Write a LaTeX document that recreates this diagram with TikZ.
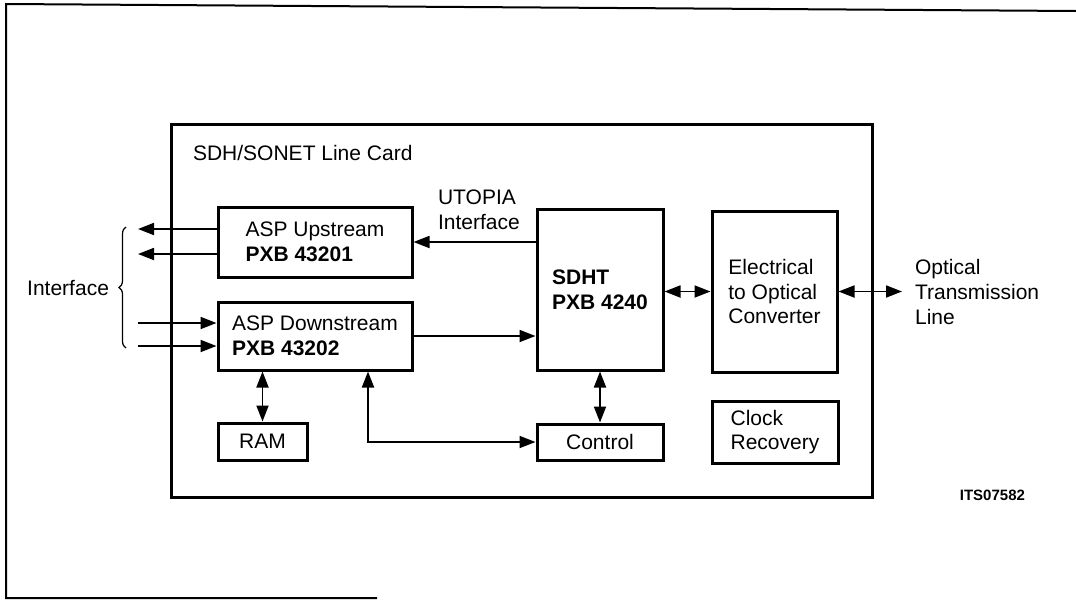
\documentclass[tikz,border=0pt]{standalone}
\usepackage{fontspec}
\setmainfont{Liberation Sans}
\usetikzlibrary{arrows.meta,decorations.pathreplacing}
\begin{document}
\begin{tikzpicture}[x=0.5pt,y=-0.5pt,
  font=\fontsize{10.5}{12.3}\selectfont,
  blk/.style={draw, line width=1.5pt, align=left, inner sep=0pt},
  arr/.style={-{Triangle[length=8pt,width=6pt]}, line width=0.9pt},
  darr/.style={{Triangle[length=8pt,width=6pt]}-{Triangle[length=8pt,width=6pt]}, line width=0.9pt}]
\useasboundingbox (0,0) rectangle (1076,600);
\draw[line width=1pt] (1076,11) -- (6,4) -- (6,598) -- (377,598);
\node[blk, minimum width=350.5pt, minimum height=186.5pt] (card) at (521.5,310.5){};
\node[anchor=west] (title) at (186,153){SDH/SONET Line Card};
\node[blk, minimum width=97pt, minimum height=35pt] (up) at (315,242){ASP Upstream\\\textbf{PXB 43201}};
\node[blk, minimum width=97pt, minimum height=34pt] (down) at (315,336){ASP Downstream\\\textbf{PXB 43202}};
\node[blk, minimum width=63pt, minimum height=80.5pt] (sdht) at (600,289.5){\textbf{SDHT}\\\textbf{PXB 4240}};
\node[blk, minimum width=62.5pt, minimum height=80.5pt] (eo) at (774.5,291.5){Electrical\\to Optical\\Converter};
\node[blk, minimum width=44.5pt, minimum height=18.5pt] (ram) at (262.5,441.5){RAM};
\node[blk, minimum width=63pt, minimum height=18pt] (ctrl) at (600,442){Control};
\node[blk, minimum width=63pt, minimum height=31pt] (clk) at (775,432){Clock\\Recovery};
\node[anchor=west, align=left] (utopia) at (431,209.5){UTOPIA\\Interface};
\node[anchor=west, align=left] (optline) at (908,292){Optical\\Transmission\\Line};
\node[anchor=east] (intf) at (116,288){Interface};
\node[anchor=east, font=\fontsize{7.5}{9}\selectfont\bfseries] (its) at (1032,495){ITS07582};
% interface side
\coordinate (o1) at (138,229);
\coordinate (o2) at (138,254);
\coordinate (i1) at (138,323);
\coordinate (i2) at (138,346);
\draw[arr] (up.west|-o1) -- (o1);
\draw[arr] (up.west|-o2) -- (o2);
\draw[arr] (i1) -- (down.west|-i1);
\draw[arr] (i2) -- (down.west|-i2);
\coordinate (b1) at (126,348);
\coordinate (b2) at (126,227);
\draw[line width=0.6pt, decorate, decoration={brace, amplitude=3.5pt}] (b1) -- (b2);
% between the chips
\draw[arr] (sdht.west|-up.east) -- (up.east);
\draw[arr] (down.east) -- (down.east-|sdht.west);
\draw[darr] (sdht.east|-eo.west) -- (eo.west);
\coordinate (ln) at (902,291.5);
\draw[darr] (eo.east) -- (ln);
\draw[darr] (down.south-|ram.north) -- (ram.north);
\coordinate (bend) at (368,442);
\draw[darr] (down.south-|bend) -- (bend) -- (ctrl.west);
\draw[darr] (sdht.south) -- (ctrl.north);
\end{tikzpicture}
\end{document}
